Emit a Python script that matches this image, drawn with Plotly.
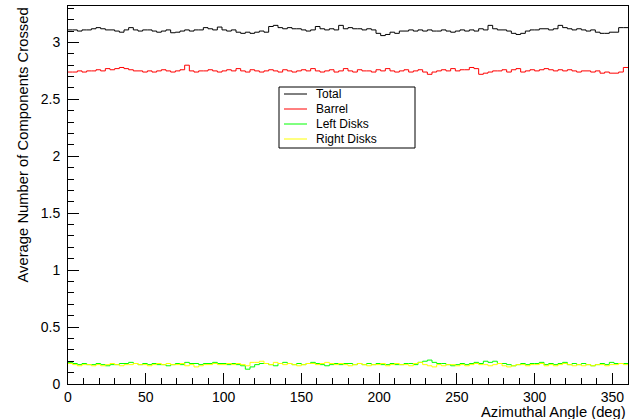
import numpy as np
import plotly.graph_objects as go

# Histogram binning: 120 bins of 3 degrees over [0, 360]
angle_edges = np.arange(0, 361, 3)

total = [3.11, 3.11, 3.10, 3.11, 3.11, 3.12, 3.13, 3.12, 3.11, 3.11,
         3.10, 3.09, 3.11, 3.13, 3.11, 3.10, 3.11, 3.11, 3.10, 3.09,
         3.10, 3.11, 3.085, 3.09, 3.10, 3.11, 3.10, 3.11, 3.11, 3.13,
         3.12, 3.11, 3.135, 3.11, 3.10, 3.11, 3.09, 3.08, 3.09, 3.08,
         3.09, 3.10, 3.09, 3.14, 3.15, 3.13, 3.12, 3.13, 3.12, 3.12,
         3.11, 3.10, 3.11, 3.14, 3.12, 3.11, 3.12, 3.11, 3.15, 3.12,
         3.13, 3.12, 3.12, 3.11, 3.12, 3.11, 3.08, 3.06, 3.07, 3.09,
         3.08, 3.10, 3.10, 3.11, 3.10, 3.11, 3.10, 3.11, 3.10, 3.10,
         3.11, 3.10, 3.09, 3.10, 3.11, 3.10, 3.11, 3.10, 3.12, 3.11,
         3.15, 3.12, 3.11, 3.11, 3.10, 3.08, 3.07, 3.08, 3.10, 3.11,
         3.11, 3.12, 3.12, 3.11, 3.12, 3.15, 3.13, 3.12, 3.11, 3.12,
         3.11, 3.10, 3.11, 3.09, 3.08, 3.08, 3.09, 3.09, 3.13, 3.13]

barrel = [2.74, 2.74, 2.75, 2.74, 2.75, 2.75, 2.76, 2.75, 2.77, 2.76,
          2.77, 2.78, 2.77, 2.76, 2.75, 2.75, 2.74, 2.75, 2.74, 2.75,
          2.76, 2.75, 2.74, 2.75, 2.76, 2.80, 2.75, 2.74, 2.75, 2.75,
          2.76, 2.75, 2.74, 2.75, 2.76, 2.75, 2.77, 2.75, 2.74, 2.76,
          2.75, 2.74, 2.75, 2.76, 2.75, 2.74, 2.76, 2.75, 2.74, 2.75,
          2.76, 2.75, 2.77, 2.75, 2.74, 2.75, 2.76, 2.74, 2.75, 2.77,
          2.75, 2.74, 2.76, 2.75, 2.75, 2.74, 2.76, 2.75, 2.77, 2.75,
          2.74, 2.75, 2.76, 2.74, 2.75, 2.76, 2.74, 2.72, 2.74, 2.75,
          2.76, 2.75, 2.77, 2.75, 2.76, 2.76, 2.78, 2.77, 2.72, 2.73,
          2.74, 2.75, 2.75, 2.76, 2.74, 2.76, 2.77, 2.74, 2.75, 2.76,
          2.75, 2.76, 2.77, 2.76, 2.75, 2.76, 2.75, 2.76, 2.75, 2.74,
          2.75, 2.75, 2.74, 2.75, 2.73, 2.74, 2.73, 2.73, 2.74, 2.78]

left_disks = [0.19, 0.18, 0.17, 0.18, 0.17, 0.17, 0.18, 0.17, 0.16, 0.17,
              0.17, 0.18, 0.18, 0.19, 0.18, 0.17, 0.18, 0.17, 0.18, 0.17,
              0.17, 0.16, 0.17, 0.18, 0.17, 0.19, 0.18, 0.18, 0.17, 0.18,
              0.18, 0.19, 0.18, 0.18, 0.17, 0.18, 0.17, 0.16, 0.13, 0.15,
              0.17, 0.18, 0.18, 0.17, 0.16, 0.18, 0.19, 0.18, 0.17, 0.18,
              0.17, 0.18, 0.19, 0.18, 0.17, 0.16, 0.17, 0.18, 0.17, 0.18,
              0.18, 0.17, 0.18, 0.17, 0.18, 0.17, 0.18, 0.17, 0.17, 0.18,
              0.17, 0.17, 0.18, 0.18, 0.17, 0.19, 0.20, 0.21, 0.19, 0.18,
              0.18, 0.17, 0.16, 0.17, 0.18, 0.17, 0.18, 0.19, 0.18, 0.20,
              0.19, 0.20, 0.18, 0.18, 0.17, 0.16, 0.17, 0.18, 0.17, 0.18,
              0.18, 0.19, 0.17, 0.18, 0.17, 0.18, 0.19, 0.17, 0.18, 0.17,
              0.18, 0.17, 0.16, 0.17, 0.18, 0.17, 0.19, 0.18, 0.18, 0.18]

right_disks = [0.18, 0.17, 0.16, 0.17, 0.17, 0.16, 0.17, 0.16, 0.17, 0.18,
               0.17, 0.16, 0.17, 0.17, 0.18, 0.17, 0.17, 0.16, 0.17, 0.18,
               0.17, 0.18, 0.17, 0.17, 0.18, 0.16, 0.17, 0.15, 0.16, 0.17,
               0.17, 0.18, 0.17, 0.17, 0.18, 0.17, 0.18, 0.17, 0.16, 0.19,
               0.19, 0.20, 0.18, 0.17, 0.19, 0.18, 0.17, 0.18, 0.17, 0.16,
               0.17, 0.18, 0.18, 0.17, 0.18, 0.19, 0.18, 0.17, 0.18, 0.17,
               0.16, 0.17, 0.18, 0.17, 0.16, 0.17, 0.17, 0.18, 0.16, 0.17,
               0.18, 0.17, 0.17, 0.16, 0.18, 0.19, 0.17, 0.16, 0.15, 0.17,
               0.16, 0.17, 0.17, 0.16, 0.17, 0.16, 0.17, 0.18, 0.17, 0.17,
               0.16, 0.17, 0.18, 0.16, 0.15, 0.16, 0.17, 0.17, 0.16, 0.17,
               0.17, 0.18, 0.16, 0.17, 0.16, 0.17, 0.18, 0.17, 0.16, 0.17,
               0.16, 0.17, 0.16, 0.17, 0.17, 0.16, 0.17, 0.17, 0.18, 0.17]

series_names = ["Total", "Barrel", "Left Disks", "Right Disks"]
series_values = [total, barrel, left_disks, right_disks]
series_colors = ["#000000", "#ff0000", "#00ff00", "#ffff00"]

FONT = "Liberation Sans, Arial, Helvetica, sans-serif"

fig = go.Figure()
for name, vals, col in zip(series_names, series_values, series_colors):
    # step outline: value held across each bin, last value repeated at the final edge
    fig.add_trace(go.Scatter(
        x=angle_edges, y=list(vals) + [vals[-1]],
        mode="lines", line=dict(color=col, width=1, shape="hv"),
        name=name, showlegend=False, hoverinfo="skip"))

fig.update_layout(
    width=638, height=419,
    margin=dict(l=68, r=10, t=6, b=35),
    paper_bgcolor="white", plot_bgcolor="white",
    font=dict(family=FONT, size=14, color="black"),
)

fig.update_xaxes(
    range=[0, 360], showgrid=False, zeroline=False,
    showline=True, linecolor="black", linewidth=1, mirror=True,
    ticks="inside", ticklen=11, tickwidth=1, tickcolor="black",
    tickvals=[0, 50, 100, 150, 200, 250, 300, 350],
    minor=dict(ticks="inside", ticklen=6, dtick=10, tick0=0, tickcolor="black", showgrid=False),
    tickfont=dict(family=FONT, size=14),
    ticklabelstandoff=0,
)
fig.update_yaxes(
    range=[0, 3.32], showgrid=False, zeroline=False,
    showline=True, linecolor="black", linewidth=1, mirror=True,
    ticks="inside", ticklen=11, tickwidth=1, tickcolor="black",
    tickvals=[0, 0.5, 1, 1.5, 2, 2.5, 3],
    ticktext=["0", "0.5", "1", "1.5", "2", "2.5", "3"],
    minor=dict(ticks="inside", ticklen=6, dtick=0.1, tick0=0, tickcolor="black", showgrid=False),
    tickfont=dict(family=FONT, size=14),
    ticklabelstandoff=4,
)

# axis titles, ROOT-style aligned to the far ends of the axes
fig.add_annotation(
    text="Average Number of Components Crossed", textangle=-90,
    xref="paper", yref="paper", x=-0.082, y=1.0,
    xanchor="center", yanchor="top", showarrow=False,
    font=dict(family=FONT, size=14.8))
fig.add_annotation(
    text="Azimuthal Angle (deg)",
    xref="paper", yref="paper", x=1.0, y=-0.074,
    xanchor="right", yanchor="middle", showarrow=False,
    font=dict(family=FONT, size=14.8))

# legend box drawn in pixel-based paper coordinates
PW, PH, L0, B0 = 560, 378, 68, 384
def px(x):
    return (x - L0) / PW
def py(y):
    return (B0 - y) / PH

fig.add_shape(type="rect", xref="paper", yref="paper",
              x0=px(279), x1=px(415), y0=py(148), y1=py(87),
              line=dict(color="black", width=1), fillcolor="white")
for i, (name, col) in enumerate(zip(series_names, series_colors)):
    yy = 94 + i * 15
    fig.add_shape(type="line", xref="paper", yref="paper",
                  x0=px(284), x1=px(307), y0=py(yy), y1=py(yy),
                  line=dict(color=col, width=1))
    fig.add_annotation(text=name, xref="paper", yref="paper",
                       x=px(314), y=py(yy), xanchor="left", yanchor="middle",
                       showarrow=False, font=dict(family=FONT, size=12))

fig.write_html("out.html")
